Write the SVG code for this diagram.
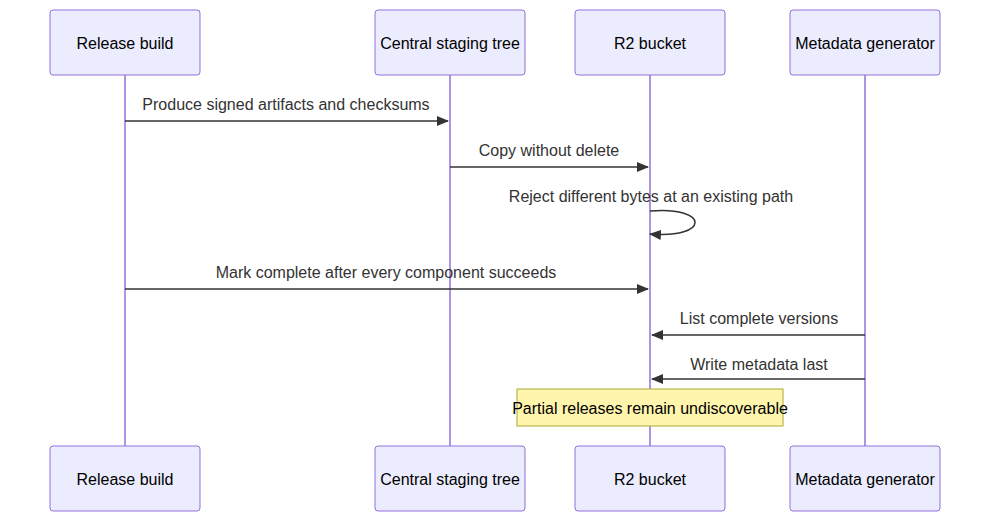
<svg xmlns="http://www.w3.org/2000/svg" width="990" height="522" viewBox="0 0 990 522">
<style>
.actor{fill:#ECECFF;stroke:#9370DB;stroke-width:1}
.life{stroke:#9370DB;stroke-width:1.5}
.t{font-family:"Liberation Sans",Arial,sans-serif;font-size:16px;fill:#333;text-anchor:middle}
.at{font-family:"Liberation Sans",Arial,sans-serif;font-size:16px;fill:#000;text-anchor:middle;dominant-baseline:central}
.msg{stroke:#333;stroke-width:1.5;fill:none}
</style>
<defs>
<marker id="ah" viewBox="0 0 12 10" refX="11" refY="5" markerWidth="12" markerHeight="10" markerUnits="userSpaceOnUse" orient="auto"><path d="M0,0L12,5L0,10z" fill="#333"/></marker>
</defs>
<g id="lifelines">
<line class="life" x1="125" y1="75" x2="125" y2="446"/>
<line class="life" x1="450" y1="75" x2="450" y2="446"/>
<line class="life" x1="650" y1="75" x2="650" y2="446"/>
<line class="life" x1="865" y1="75" x2="865" y2="446"/>
</g>
<g id="release-build"><rect class="actor" x="50" y="10" width="150" height="65" rx="3"/><text class="at" x="125" y="43">Release build</text>
<rect class="actor" x="50" y="446" width="150" height="65" rx="3"/><text class="at" x="125" y="479">Release build</text></g>
<g id="staging"><rect class="actor" x="375" y="10" width="150" height="65" rx="3"/><text class="at" x="450" y="43">Central staging tree</text>
<rect class="actor" x="375" y="446" width="150" height="65" rx="3"/><text class="at" x="450" y="479">Central staging tree</text></g>
<g id="r2"><rect class="actor" x="575" y="10" width="150" height="65" rx="3"/><text class="at" x="650" y="43">R2 bucket</text>
<rect class="actor" x="575" y="446" width="150" height="65" rx="3"/><text class="at" x="650" y="479">R2 bucket</text></g>
<g id="metadata"><rect class="actor" x="790" y="10" width="150" height="65" rx="3"/><text class="at" x="865" y="43">Metadata generator</text>
<rect class="actor" x="790" y="446" width="150" height="65" rx="3"/><text class="at" x="865" y="479">Metadata generator</text></g>
<g id="connectors">
<line class="msg" x1="125" y1="121" x2="448" y2="121" marker-end="url(#ah)"/>
<text class="t" x="286" y="110">Produce signed artifacts and checksums</text>
<line class="msg" x1="450" y1="167" x2="648" y2="167" marker-end="url(#ah)"/>
<text class="t" x="549" y="156">Copy without delete</text>
<path class="msg" d="M650,211 C710,206 710,239 650,234" marker-end="url(#ah)"/>
<text class="t" x="651" y="202">Reject different bytes at an existing path</text>
<line class="msg" x1="125" y1="289" x2="648" y2="289" marker-end="url(#ah)"/>
<text class="t" x="386" y="278">Mark complete after every component succeeds</text>
<line class="msg" x1="865" y1="335" x2="652" y2="335" marker-end="url(#ah)"/>
<text class="t" x="759" y="324">List complete versions</text>
<line class="msg" x1="865" y1="379" x2="652" y2="379" marker-end="url(#ah)"/>
<text class="t" x="759" y="370">Write metadata last</text>
</g>
<g id="note">
<rect x="517" y="389" width="266" height="37" fill="#fff5ad" stroke="#aaaa33" stroke-width="1"/>
<text class="at" x="650" y="408" style="fill:#000">Partial releases remain undiscoverable</text>
</g>
</svg>
